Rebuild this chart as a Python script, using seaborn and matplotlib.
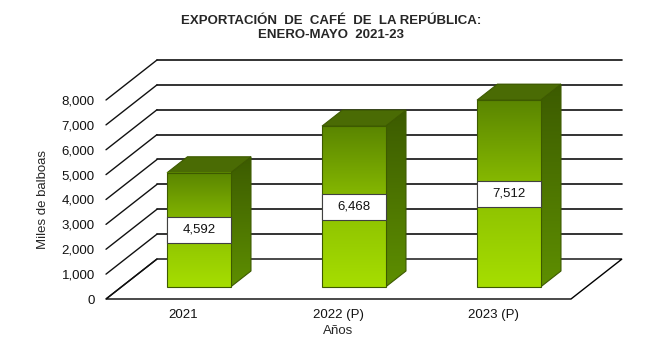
import numpy as np
import pandas as pd
import seaborn as sns
import matplotlib.pyplot as plt
from matplotlib.patches import Polygon, Rectangle
from matplotlib.transforms import IdentityTransform, ScaledTranslation
from matplotlib.colors import LinearSegmentedColormap

years = ['2021', '2022 (P)', '2023 (P)']
values = [4592, 6468, 7512]
yticks = list(range(0, 9000, 1000))

title = 'EXPORTACIÓN  DE  CAFÉ  DE  LA REPÚBLICA:\nENERO-MAYO  2021-23'

sns.set_style('white')
plt.rcParams['font.family'] = ['Liberation Sans', 'DejaVu Sans']

DPI = 100
DEPTH = (0.51, 0.40)  # full depth of the 3d box, inches (right, up)
BAR_FRONT, BAR_BACK = 0.3, 0.7

fig = plt.figure(figsize=(6.66, 3.6), dpi=DPI)
fig.patch.set_facecolor('white')
ax = fig.add_axes([106 / 666, 61 / 360, 465 / 666, 199 / 360])

df = pd.DataFrame({'year': years, 'value': values})
sns.barplot(data=df, x='year', y='value', ax=ax, width=0.41,
            color='#8cbf00', edgecolor='#3d5a00', linewidth=0.8, zorder=6)
ax.set_xlim(-0.5, 2.5)
ax.set_ylim(0, 8000)


def px(x, y, d):
    p = ax.transData.transform((x, y))
    return (p[0] + d * DEPTH[0] * DPI, p[1] + d * DEPTH[1] * DPI)


def depth_trans(d):
    return ax.transData + ScaledTranslation(d * DEPTH[0], d * DEPTH[1], fig.dpi_scale_trans)


ident = IdentityTransform()

# floor
floor = Polygon([px(-0.5, 0, 0), px(2.5, 0, 0), px(2.5, 0, 1), px(-0.5, 0, 1)],
                closed=True, fc='white', ec='black', lw=1.0, transform=ident,
                clip_on=False, zorder=2)
ax.add_patch(floor)

# back wall grid and left wall diagonals
for v in yticks:
    if v > 0:
        a, b = px(-0.5, v, 1), px(2.5, v, 1)
        ax.plot([a[0], b[0]], [a[1], b[1]], color='#111111', lw=1.2,
                transform=ident, clip_on=False, zorder=1)
    a, b = px(-0.5, v, 0), px(-0.5, v, 1)
    ax.plot([a[0], b[0]], [a[1], b[1]], color='#111111', lw=1.0,
            transform=ident, clip_on=False, zorder=3)

front_cmap = LinearSegmentedColormap.from_list('front', ['#a6de00', '#8cc000', '#5a8500'])
side_cmap = LinearSegmentedColormap.from_list('side', ['#5e8f00', '#3c5b00'])
grad = np.linspace(0, 1, 256).reshape(-1, 1)

ppu = (ax.transData.transform((0, 1000))[1] - ax.transData.transform((0, 0))[1]) / 1000
box_h = 26 / ppu

for p, val in zip(list(ax.patches), values):
    x0, w, h = p.get_x(), p.get_width(), p.get_height()
    tf = depth_trans(BAR_FRONT)
    p.set_transform(tf)
    p.set_facecolor('none')
    p.set_clip_on(False)

    # side face
    side_pts = [px(x0 + w, 0, BAR_FRONT), px(x0 + w, 0, BAR_BACK),
                px(x0 + w, h, BAR_BACK), px(x0 + w, h, BAR_FRONT)]
    side = Polygon(side_pts, closed=True, fc='none', ec='#3d5a00', lw=0.8,
                   transform=ident, clip_on=False, zorder=5)
    ax.add_patch(side)
    xs = [q[0] for q in side_pts]
    ys = [q[1] for q in side_pts]
    im = ax.imshow(grad, cmap=side_cmap, origin='lower', aspect='auto',
                   extent=(min(xs), max(xs), min(ys), max(ys)),
                   transform=ident, zorder=4)
    im.set_clip_path(side)
    im.set_clip_box(fig.bbox)

    # top face
    top = Polygon([px(x0, h, BAR_FRONT), px(x0 + w, h, BAR_FRONT),
                   px(x0 + w, h, BAR_BACK), px(x0, h, BAR_BACK)],
                  closed=True, fc='#4a6b04', ec='#3d5a00', lw=0.8,
                  transform=ident, clip_on=False, zorder=5)
    ax.add_patch(top)

    # front face gradient
    im = ax.imshow(grad, cmap=front_cmap, origin='lower', aspect='auto',
                   extent=(x0, x0 + w, 0, h), transform=tf, zorder=5.5)
    im.set_clip_path(p)
    im.set_clip_box(fig.bbox)

    # value box
    ax.add_patch(Rectangle((x0, h / 2 - box_h / 2), w, box_h, fc='white',
                           ec='#404040', lw=0.8, transform=tf, zorder=7,
                           clip_on=False))
    ax.text(x0 + w / 2, h / 2, f'{val:,}', ha='center', va='center',
            fontsize=9.5, color='#111111', transform=tf, zorder=8)

ax.set_xlim(-0.5, 2.5)
ax.set_ylim(0, 8000)
ax.set_yticks(yticks)
ax.set_yticklabels([f'{v:,}' for v in yticks])
ax.tick_params(axis='both', length=0, labelsize=9.5, colors='#111111')
ax.tick_params(axis='y', pad=8)
ax.tick_params(axis='x', pad=7)
for s in ax.spines.values():
    s.set_visible(False)
ax.set_facecolor('none')
ax.set_xlabel('Años', fontsize=9.5, labelpad=3)
ax.set_ylabel('Miles de balboas', fontsize=9.5, labelpad=9)

fig.text(0.497, 1 - 28 / 360, title, ha='center', va='center', fontsize=9.5,
         fontweight='bold', linespacing=1.3,
         family=['Liberation Sans Narrow', 'Liberation Sans'])

fig.savefig('out.png', dpi=DPI)
